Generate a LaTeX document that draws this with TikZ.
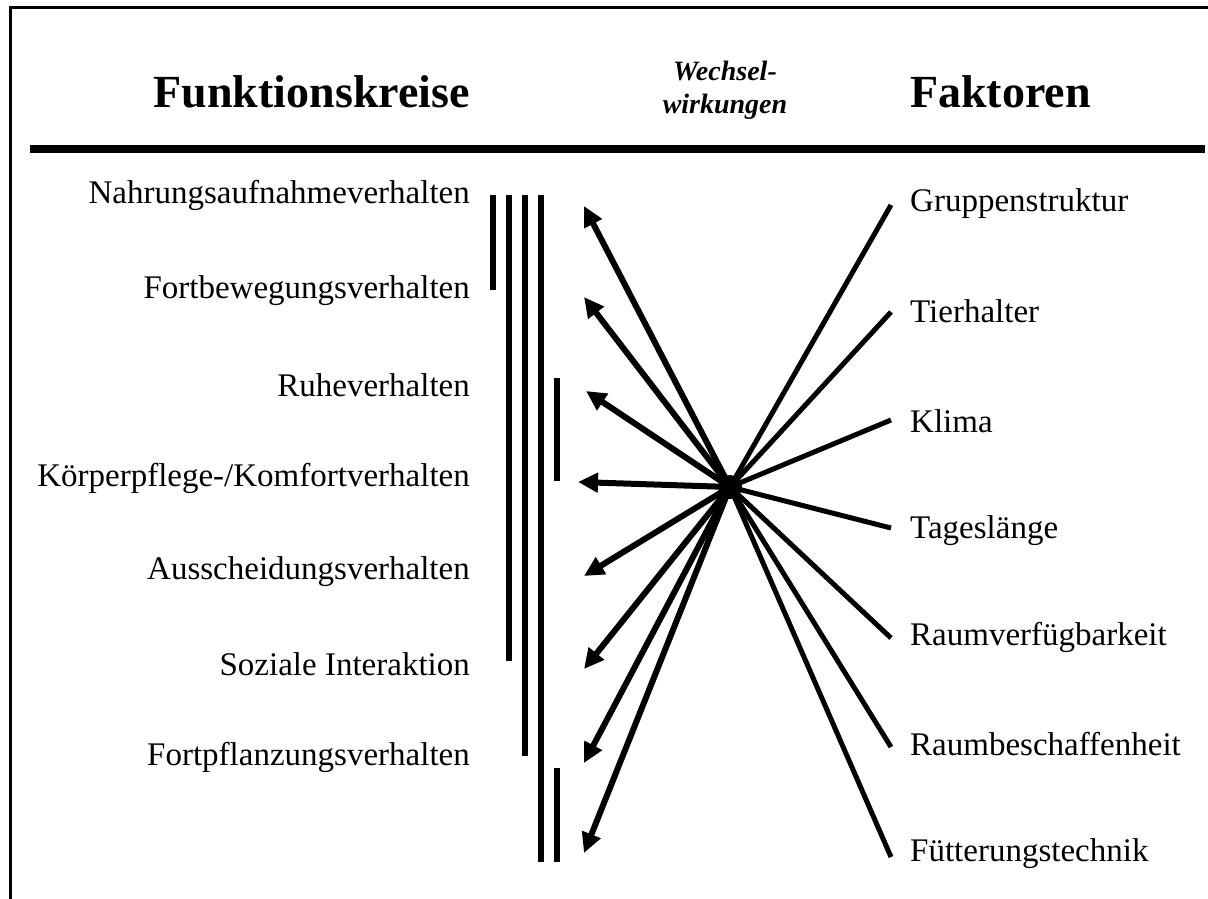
\documentclass[tikz,border=0pt]{standalone}
\usepackage{fontspec}
\setmainfont{Liberation Serif}
\usetikzlibrary{arrows.meta}
\begin{document}
\begin{tikzpicture}[x=1pt,y=-1pt,
  lbl/.style={font=\fontsize{33}{36}\selectfont, inner sep=0pt},
  ttl/.style={font=\fontsize{46}{50}\selectfont\bfseries, inner sep=0pt},
  bar/.style={line width=6pt},
  arr/.style={line width=6pt, -{Triangle[length=20pt,width=19pt]}},
  ray/.style={line width=5pt}]
\useasboundingbox (0,0) rectangle (1208,899);
% frame
\draw[line width=3pt] (10,899) -- (10,8) -- (1208,8);
\draw[line width=8pt] (30,149) -- (1205,149);
% titles
\node[ttl, anchor=base east] (t1) at (470,107) {Funktionskreise};
\node[ttl, anchor=base west] (t2) at (910,107) {Faktoren};
\node[inner sep=0pt, align=center, font=\fontsize{28}{33}\selectfont\bfseries\itshape] (t3) at (725,90) {Wechsel-\\wirkungen};
% left labels
\node[lbl, anchor=east] (l1) at (470,195) {Nahrungsaufnahmeverhalten};
\node[lbl, anchor=east] (l2) at (470,291) {Fortbewegungsverhalten};
\node[lbl, anchor=east] (l3) at (470,385) {Ruheverhalten};
\node[lbl, anchor=east] (l4) at (470,478) {Körperpflege-/Komfortverhalten};
\node[lbl, anchor=east] (l5) at (470,572) {Ausscheidungsverhalten};
\node[lbl, anchor=east] (l6) at (470,664) {Soziale Interaktion};
\node[lbl, anchor=east] (l7) at (470,757) {Fortpflanzungsverhalten};
% right labels
\node[lbl, anchor=west] (r1) at (910,204) {Gruppenstruktur};
\node[lbl, anchor=west] (r2) at (910,311) {Tierhalter};
\node[lbl, anchor=west] (r3) at (910,421) {Klima};
\node[lbl, anchor=west] (r4) at (910,531) {Tageslänge};
\node[lbl, anchor=west] (r5) at (910,637) {Raumverfügbarkeit};
\node[lbl, anchor=west] (r6) at (910,744) {Raumbeschaffenheit};
\node[lbl, anchor=west] (r7) at (910,854) {Fütterungstechnik};
% vertical bars
\draw[bar] (493,195) -- (493,290);
\draw[bar] (509,195) -- (509,661);
\draw[bar] (525,195) -- (525,756);
\draw[bar] (541,195) -- (541,862);
\draw[bar] (557,378) -- (557,481);
\draw[bar] (557,768) -- (557,862);
% hub and end points
\coordinate (hub) at (730,487);
\coordinate (a1) at (584,206);
\coordinate (a2) at (584,297);
\coordinate (a3) at (586,391);
\coordinate (a4) at (578,482);
\coordinate (a5) at (584,576);
\coordinate (a6) at (584,669);
\coordinate (a7) at (584,763);
\coordinate (a8) at (584,853);
\coordinate (b1) at (891,205);
\coordinate (b2) at (891,312);
\coordinate (b3) at (891,420);
\coordinate (b4) at (891,528);
\coordinate (b5) at (891,638);
\coordinate (b6) at (891,747);
\coordinate (b7) at (891,857);
\foreach \i in {1,...,8} \draw[arr] (hub) -- (a\i);
\foreach \i in {1,...,7} \draw[ray] (hub) -- (b\i);
\node[circle, fill=black, minimum size=24pt, inner sep=0pt] (hubdot) at (hub) {};
\end{tikzpicture}
\end{document}
